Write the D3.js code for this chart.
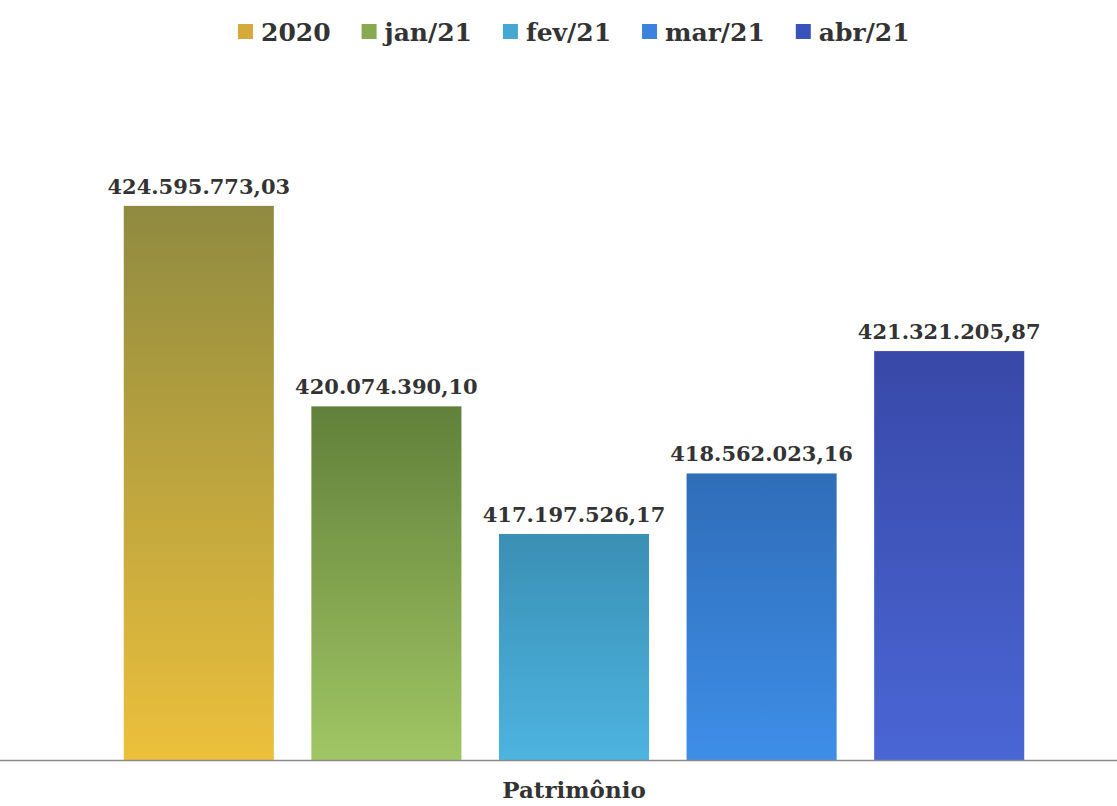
<!DOCTYPE html>
<html><head><meta charset="utf-8">
<script src="https://cdn.jsdelivr.net/npm/d3@7"></script>
<style>body{margin:0;background:#fff}svg{display:block}</style>
</head><body><svg id="c" width="1117" height="806"></svg>
<script>
const categories = ["2020","jan/21","fev/21","mar/21","abr/21"];
const values = [424595773.03, 420074390.10, 417197526.17, 418562023.16, 421321205.87];
const topColors = ["#8f8a40","#61803a","#3a8fb4","#2f6db8","#3848a8"];
const bottomColors = ["#ecc03c","#a0c664","#4db4e0","#3e8ee8","#4a66d4"];
const legendColors = ["#d6aa3a","#88aa4e","#44a8d2","#3a82de","#3a52bc"];
const axisLabel = "Patrimônio";
const yDomain = [412.1e6, 426e6];

const svg = d3.select("#c");
const font = "'DejaVu Serif', serif";
const x = d3.scaleBand().domain(categories).range([105, 1043]).paddingInner(0.2).paddingOuter(0.1);
const y = d3.scaleLinear().domain(yDomain).range([760, 143.6]);

const defs = svg.append("defs");
categories.forEach((c,i)=>{
  const g = defs.append("linearGradient").attr("id","g"+i).attr("x1",0).attr("y1",0).attr("x2",0).attr("y2",1);
  g.append("stop").attr("offset","0%").attr("stop-color",topColors[i]);
  g.append("stop").attr("offset","100%").attr("stop-color",bottomColors[i]);
});

const fmt = v => {
  const s = v.toFixed(2).split(".");
  return s[0].replace(/\B(?=(\d{3})+(?!\d))/g,".") + "," + s[1];
};

svg.selectAll("rect.bar").data(values).join("rect").attr("class","bar")
  .attr("x",(d,i)=>x(categories[i])).attr("width",x.bandwidth())
  .attr("y",d=>y(d)).attr("height",d=>760-y(d))
  .attr("fill",(d,i)=>`url(#g${i})`);

svg.selectAll("text.val").data(values).join("text").attr("class","val")
  .attr("x",(d,i)=>x(categories[i])+x.bandwidth()/2).attr("y",d=>y(d)-12)
  .attr("text-anchor","middle").attr("font-family",font).attr("font-weight","bold")
  .attr("font-size",21).attr("fill","#333").text(fmt);

svg.append("line").attr("x1",0).attr("x2",1117).attr("y1",760.5).attr("y2",760.5)
  .attr("stroke","#8a8a8a").attr("stroke-width",1.5);

svg.append("text").attr("x",574).attr("y",798).attr("text-anchor","middle")
  .attr("font-family",font).attr("font-weight","bold").attr("font-size",23).attr("fill","#333").text(axisLabel);

// legend
const lg = svg.append("g");
let lx = 238;
categories.forEach((c,i)=>{
  const g = lg.append("g");
  g.append("rect").attr("x",lx).attr("y",24).attr("width",15).attr("height",15).attr("fill",legendColors[i]);
  const t = g.append("text").attr("x",lx+23).attr("y",41).attr("font-family",font).attr("font-weight","bold")
    .attr("font-size",25).attr("fill","#333").text(c);
  lx += 23 + t.node().getComputedTextLength() + 31;
});
</script></body></html>
